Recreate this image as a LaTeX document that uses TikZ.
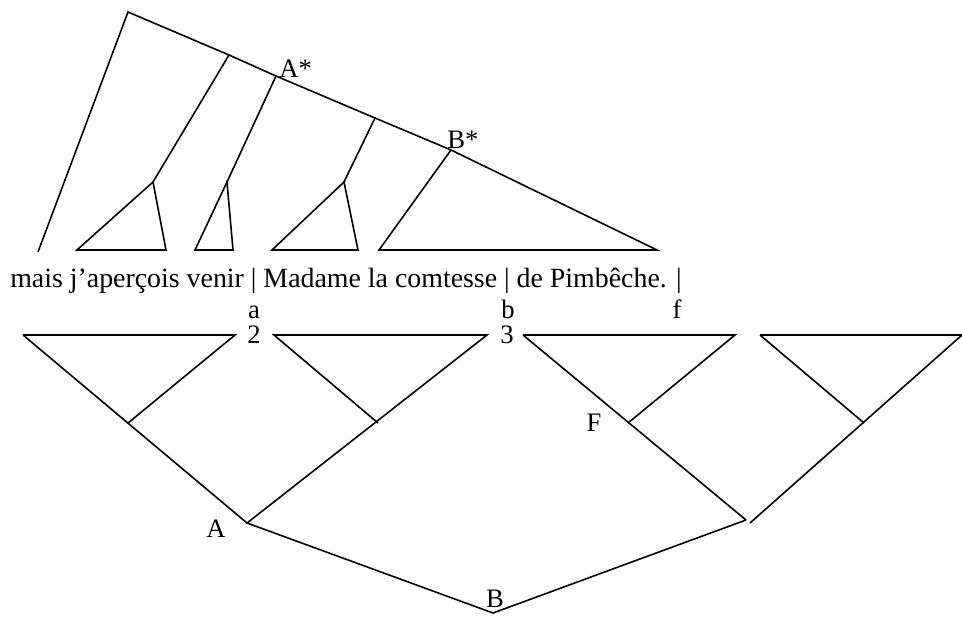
\documentclass[tikz,border=0pt]{standalone}
\usepackage{fontspec}
\setmainfont{Liberation Serif}
\begin{document}
\begin{tikzpicture}[x=0.75pt,y=-0.75pt,
  ln/.style={line width=1.2pt,line join=miter},
  lbl/.style={font=\fontsize{20}{22}\selectfont,inner sep=0pt,anchor=base}]
\useasboundingbox (0,0) rectangle (962,617);
% ---- upper tree ----
\coordinate (T) at (128,12);
\coordinate (L) at (38,252);
\coordinate (J1) at (229,55);
\coordinate (Astar) at (276,76);
\coordinate (J3) at (375,118);
\coordinate (Bstar) at (451,150);
\coordinate (R) at (657,250);
\coordinate (t1a) at (153,182); \coordinate (t1l) at (77,250); \coordinate (t1r) at (166,250);
\coordinate (t2a) at (227,182); \coordinate (t2l) at (195,250); \coordinate (t2r) at (233,250);
\coordinate (t3a) at (344,182); \coordinate (t3l) at (272,250); \coordinate (t3r) at (358,250);
\coordinate (t4l) at (379,250);
\draw[ln] (L) -- (T) -- (J1) -- (Astar) -- (J3) -- (Bstar) -- (R) -- (t4l) -- (Bstar);
\draw[ln] (J1) -- (t1a);
\draw[ln] (Astar) -- (t2a);
\draw[ln] (J3) -- (t3a);
\draw[ln] (t1a) -- (t1l) -- (t1r) -- cycle;
\draw[ln] (t2a) -- (t2l) -- (t2r) -- cycle;
\draw[ln] (t3a) -- (t3l) -- (t3r) -- cycle;
\node[lbl,anchor=base west] (lA*) at (279,77) {A*};
\node[lbl,anchor=base west] (lB*) at (447,148) {B*};
% ---- sentence ----
\node[font=\fontsize{20.9}{24}\selectfont,inner sep=0pt,anchor=base west] (sent) at (10,287)
  {mais j’aperçois venir | Madame la comtesse | de Pimbêche. |};
% ---- lower tree ----
\coordinate (a1) at (23,335); \coordinate (a2) at (235,335); \coordinate (j1) at (128,423);
\coordinate (b1) at (274,335); \coordinate (b2) at (487,335); \coordinate (j2) at (378,423);
\coordinate (c1) at (523,335); \coordinate (c2) at (735,335); \coordinate (F) at (628,423);
\coordinate (d1) at (760,335); \coordinate (d2) at (962,335); \coordinate (j4) at (864,423);
\coordinate (A) at (247,523);
\coordinate (B) at (493,613);
\coordinate (C) at (746,520);
\coordinate (D) at (750,523);
\draw[ln] (a1) -- (A) -- (b2) -- (b1) -- (j2);
\draw[ln] (a1) -- (a2) -- (j1);
\draw[ln] (c1) -- (C);
\draw[ln] (c1) -- (c2) -- (F);
\draw[ln] (d1) -- (d2) -- (D);
\draw[ln] (d1) -- (j4);
\draw[ln] (A) -- (B) -- (C);
\node[lbl] (la) at (254,318) {a};
\node[lbl] (l2) at (254,343) {2};
\node[lbl] (lb) at (508,318) {b};
\node[lbl] (l3) at (507,343) {3};
\node[lbl] (lf) at (677,318) {f};
\node[lbl] (lF) at (594,431) {F};
\node[lbl] (lA) at (216,537) {A};
\node[lbl] (lB) at (495,607) {B};
\end{tikzpicture}
\end{document}
